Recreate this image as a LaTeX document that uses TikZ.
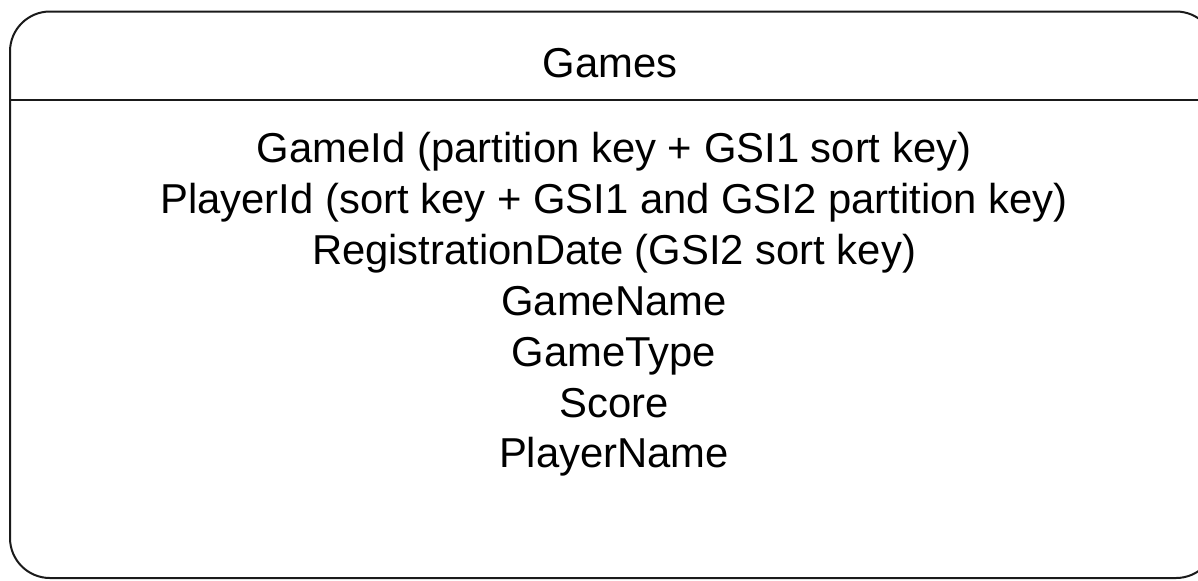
\documentclass[tikz,border=0pt]{standalone}
\usepackage{fontspec}
\setmainfont{Liberation Sans}
\usetikzlibrary{positioning}
\definecolor{gline}{HTML}{1A1A1A}
\tikzset{
  tablebox/.style={draw=gline, line width=1pt, rounded corners=20pt, inner sep=0pt},
  fieldtext/.style={anchor=base, text=black}
}

\begin{document}
\begin{tikzpicture}[x=0.5pt, y=-0.5pt, every node/.style={font=\fontsize{20.9}{25}\selectfont}]
  \clip (0,0) rectangle (1198,580);
  % table outline, runs off the right edge
  \node[tablebox, minimum width=603pt, minimum height=283.25pt] (games) at (613,294.75) {};
  \coordinate (hdr) at (0,100);
  \draw[gline, line width=1pt] (games.west |- hdr) -- (games.east |- hdr);
  % title
  \node[fieldtext] (title) at (610,77) {Games};
  % fields
  \foreach \y/\lab [count=\i] in {162/{GameId (partition key + GSI1 sort key)},
    213/{PlayerId (sort key + GSI1 and GSI2 partition key)},
    264/{RegistrationDate (GSI2 sort key)},
    315/{GameName}, 366/{GameType}, 417/{Score}, 467/{PlayerName}}{
    \node[fieldtext] (field\i) at (614,\y) {\lab};
  }
\end{tikzpicture}
\end{document}
